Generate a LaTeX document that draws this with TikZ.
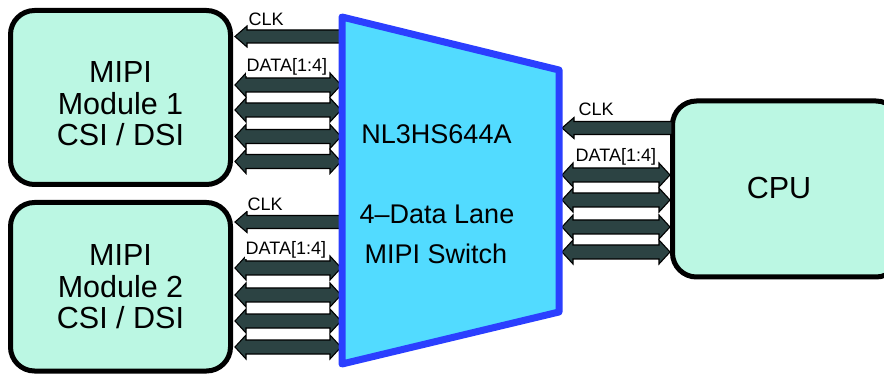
\documentclass[tikz,border=0pt]{standalone}
\usepackage{fontspec}
\setmainfont{Liberation Sans}
\definecolor{mint}{HTML}{BBF7E3}
\definecolor{swfill}{HTML}{52DBFF}
\definecolor{swline}{HTML}{2B3FFF}
\definecolor{arrfill}{HTML}{2C4343}
\tikzset{
  module/.style={draw=black, line width=5pt, fill=mint, rounded corners=24pt},
  modtext/.style={align=center, font=\fontsize{30.5}{31.5}\selectfont, inner sep=0pt},
  swtext/.style={font=\fontsize{27}{30}\selectfont, inner sep=0pt},
  lbl/.style={font=\fontsize{18}{19}\selectfont, inner sep=0.5pt, fill=white, anchor=west},
  arr/.style={draw=black, line width=1.1pt, fill=arrfill, line join=miter},
}
% double arrow: x1 x2 y
\newcommand\DArr[3]{%
  \draw[arr] (#1,#3) -- ({#1+11},{#3-12}) -- ({#1+11},{#3-7}) -- ({#2-11},{#3-7}) -- ({#2-11},{#3-12})
    -- (#2,#3) -- ({#2-11},{#3+12}) -- ({#2-11},{#3+7}) -- ({#1+11},{#3+7}) -- ({#1+11},{#3+12}) -- cycle;}
% single arrow pointing left: tip x, tail x, y
\newcommand\LArr[3]{%
  \draw[arr] (#1,#3) -- ({#1+12},{#3-10.5}) -- ({#1+12},{#3-6.5}) -- (#2,{#3-6.5}) -- (#2,{#3+6.5})
    -- ({#1+12},{#3+6.5}) -- ({#1+12},{#3+10.5}) -- cycle;}
\begin{document}
\begin{tikzpicture}[x=1pt,y=-1pt]
\useasboundingbox (0,0) rectangle (884,374);
% modules
\draw[module] (10.5,10.5) rectangle (230.5,184.5);
\node[modtext] (m1) at (120.5,104) {MIPI\\Module 1\\CSI / DSI};
\draw[module] (10.5,202.5) rectangle (230.5,371);
\node[modtext] (m2) at (120.5,287) {MIPI\\Module 2\\CSI / DSI};
\draw[module] (672.5,101) rectangle (900,277);
\node[modtext] (cpu) at (779,188) {CPU};
% arrows module 1
\LArr{235}{341}{36.5}
\foreach \y in {85,110,136.5,161.5} {\DArr{235}{341}{\y}}
% arrows module 2
\LArr{235}{341}{222}
\foreach \y in {268,295,321,347} {\DArr{235}{341}{\y}}
% arrows cpu
\LArr{562}{672}{128}
\foreach \y in {175,200,227,252} {\DArr{562}{670}{\y}}
% switch
\draw[line width=7pt, draw=swline, fill=swfill, line join=round]
  (342,17) -- (559,70) -- (559,312) -- (342,364) -- cycle;
\node[swtext] (sw1) at (436.5,134) {NL3HS644A};
\node[swtext] (sw2) at (437,214) {4–Data Lane};
\node[swtext] (sw3) at (436,254) {MIPI Switch};
% labels
\node[lbl] (c1) at (248,19.5) {CLK};
\node[lbl] (d1) at (246,67) {DATA[1:4]};
\node[lbl] (c2) at (247,204) {CLK};
\node[lbl] (d2) at (245,250) {DATA[1:4]};
\node[lbl] (c3) at (578,109) {CLK};
\node[lbl] (d3) at (575,157) {DATA[1:4]};
\end{tikzpicture}
\end{document}
